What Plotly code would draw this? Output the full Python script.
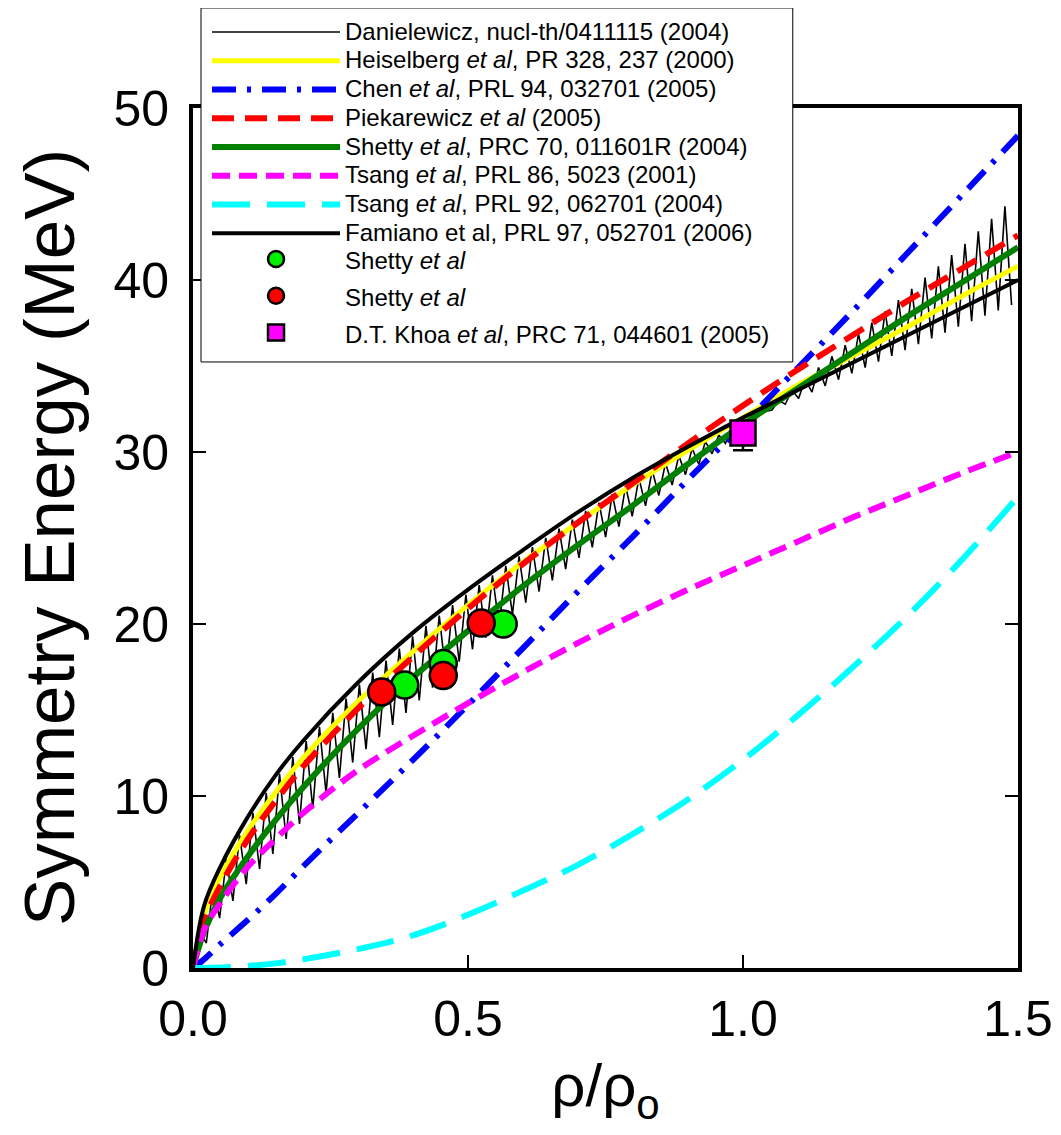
import numpy as np
import plotly.graph_objects as go

# density grid (rho/rho0) used for the model curves
rho = [0.0, 0.02, 0.05, 0.1, 0.15, 0.2, 0.3, 0.4, 0.5, 0.6, 0.7, 0.8, 0.9,
       1.0, 1.1, 1.2, 1.3, 1.4, 1.5]

heiselberg = [0.0, 3.1, 5.3, 8.0, 10.2, 12.2, 15.5, 18.4, 21.1, 23.6, 25.9, 28.1,
              30.1, 32.0, 33.9, 35.6, 37.3, 39.1, 40.8]
chen = [0.0, 0.5, 1.4, 2.8, 4.3, 5.9, 9.0, 12.1, 15.3, 18.6, 21.9, 25.1,
        28.4, 31.6, 34.9, 38.2, 41.6, 45.0, 48.4]
piekarewicz = [0.0, 2.7, 4.8, 7.5, 9.7, 11.7, 15.1, 18.1, 20.9, 23.5, 25.9, 28.2,
               30.5, 32.7, 34.8, 36.8, 38.8, 40.7, 42.6]
shetty_curve = [0.0, 2.1, 4.1, 6.5, 8.6, 10.5, 13.9, 16.9, 19.6, 22.2, 24.6, 26.9,
                29.3, 31.6, 33.7, 35.8, 37.9, 39.9, 41.9]
tsang_2001 = [0.0, 2.2, 3.8, 5.9, 7.5, 9.0, 11.5, 13.5, 15.4, 17.2, 18.9, 20.5,
              22.0, 23.4, 24.8, 26.2, 27.5, 28.8, 30.0]
tsang_2004 = [0.0, 0.0, 0.03, 0.12, 0.27, 0.5, 1.1, 1.9, 3.1, 4.5, 6.0, 7.8,
              9.8, 12.1, 14.7, 17.5, 20.5, 23.8, 27.4]
famiano = [0.0, 3.6, 5.9, 8.8, 11.2, 13.2, 16.6, 19.5, 22.0, 24.3, 26.5, 28.5,
           30.3, 32.0, 33.6, 35.2, 36.8, 38.4, 40.0]

# Danielewicz band edges (the band is drawn as a zigzag hatch between them)
dan_soft = [0.0, 3.5, 5.7, 8.6, 11.0, 13.0, 16.4, 19.3, 21.8, 24.1, 26.3, 28.3,
            30.1, 31.7, 33.1, 34.6, 36.0, 37.4, 38.7]
dan_stiff = [0.0, 1.2, 3.0, 5.0, 6.8, 8.6, 12.3, 15.2, 18.3, 21.1, 23.8, 26.3,
             28.8, 31.3, 33.9, 36.6, 39.3, 42.0, 45.0]

# data points
shetty_green_x = [0.385, 0.455, 0.564]
shetty_green_y = [16.45, 17.7, 20.0]
shetty_red_x = [0.343, 0.455, 0.524]
shetty_red_y = [16.05, 17.0, 20.06]
khoa_x = [1.0]
khoa_y = [31.1]
khoa_err_minus = [1.0]

# build the hatch: alternate between the two band edges
step = 0.0121
hx = np.arange(0, 1.5 + 1e-9, step)
hy = np.where(np.arange(len(hx)) % 2 == 0,
              np.interp(hx, rho, dan_stiff), np.interp(hx, rho, dan_soft))


def lbl(s):
    return '<span style="font-size:24px">' + s + '</span>'


fig = go.Figure()

fig.add_trace(go.Scatter(x=hx, y=hy, mode="lines",
                         line=dict(color="black", width=1.6),
                         name=lbl("Danielewicz, nucl-th/0411115 (2004)")))
fig.add_trace(go.Scatter(x=rho, y=heiselberg, mode="lines", line_shape="spline",
                         line=dict(color="#ffff00", width=5),
                         name=lbl("Heiselberg <i>et al</i>, PR 328, 237 (2000)")))
fig.add_trace(go.Scatter(x=rho, y=chen, mode="lines", line_shape="spline",
                         line=dict(color="#0000ff", width=6, dash="24px,11px,4px,11px"),
                         name=lbl("Chen <i>et al</i>, PRL 94, 032701 (2005)")))
fig.add_trace(go.Scatter(x=rho, y=piekarewicz, mode="lines", line_shape="spline",
                         line=dict(color="#ff0000", width=6, dash="22px,11px"),
                         name=lbl("Piekarewicz <i>et al</i> (2005)")))
fig.add_trace(go.Scatter(x=rho, y=shetty_curve, mode="lines", line_shape="spline",
                         line=dict(color="#008000", width=6),
                         name=lbl("Shetty <i>et al</i>, PRC 70, 011601R (2004)")))
fig.add_trace(go.Scatter(x=rho, y=tsang_2001, mode="lines", line_shape="spline",
                         line=dict(color="#ff00ff", width=6, dash="18px,9px"),
                         name=lbl("Tsang <i>et al</i>, PRL 86, 5023 (2001)")))
fig.add_trace(go.Scatter(x=rho, y=tsang_2004, mode="lines", line_shape="spline",
                         line=dict(color="#00ffff", width=6, dash="38px,17px"),
                         name=lbl("Tsang <i>et al</i>, PRL 92, 062701 (2004)")))
fig.add_trace(go.Scatter(x=rho, y=famiano, mode="lines", line_shape="spline",
                         line=dict(color="black", width=4),
                         name=lbl("Famiano et al, PRL 97, 052701 (2006)")))
fig.add_trace(go.Scatter(x=shetty_green_x, y=shetty_green_y, mode="markers", legend="legend2",
                         marker=dict(color="#00ee00", size=27, line=dict(color="black", width=2.5)),
                         name=lbl("Shetty <i>et al</i>")))
fig.add_trace(go.Scatter(x=shetty_red_x, y=shetty_red_y, mode="markers", legend="legend2",
                         marker=dict(color="#ff0000", size=27, line=dict(color="black", width=2.5)),
                         name=lbl("Shetty <i>et al</i>")))
fig.add_trace(go.Scatter(x=khoa_x, y=khoa_y, mode="markers", legend="legend2",
                         marker=dict(color="#ff00ff", size=25, symbol="square",
                                     line=dict(color="black", width=2.5)),
                         error_y=dict(type="data", symmetric=False, array=[0],
                                      arrayminus=khoa_err_minus, color="black",
                                      thickness=2.5, width=10),
                         name=lbl("D.T. Khoa <i>et al</i>, PRC 71, 044601 (2005)")))

axis_common = dict(showline=True, linecolor="black", linewidth=4, mirror="ticks",
                   ticks="inside", ticklen=13, tickwidth=2, tickcolor="black",
                   showgrid=False, zeroline=False,
                   tickfont=dict(size=50, color="black"))

fig.update_xaxes(range=[0, 1.5], dtick=0.5, tickformat=".1f", ticklabelstandoff=4,
                 title=dict(text="ρ/ρ<sub>o</sub>", font=dict(size=60, color="black"), standoff=22),
                 **axis_common)
fig.update_yaxes(range=[0, 50], dtick=10, ticklabelstandoff=10, **axis_common)

# y title as a rotated annotation so it can sit closer to the page edge
fig.add_annotation(text="Symmetry Energy (MeV)", xref="paper", yref="paper",
                   x=-0.1745, y=0.5, xanchor="center", yanchor="middle",
                   textangle=-90, showarrow=False, borderpad=0,
                   font=dict(size=71, color="black"))

leg_common = dict(xanchor="left", yanchor="top", bgcolor="rgba(0,0,0,0)",
                  borderwidth=0, itemwidth=128, traceorder="normal")

fig.update_layout(
    width=1050, height=1120,
    margin=dict(l=185, r=40, t=100, b=160, autoexpand=False),
    font=dict(family="Liberation Sans, Arial, sans-serif", color="black"),
    plot_bgcolor="white", paper_bgcolor="white",
    legend=dict(x=0.0170, y=1.1109, font=dict(size=19.8, color="black"), **leg_common),
    legend2=dict(x=0.0170, y=0.8516, font=dict(size=26, color="black"), **leg_common),
    shapes=[dict(type="rect", xref="paper", yref="paper", x0=0.0097, x1=0.727,
                 y0=0.7047, y1=1.1163, line=dict(color="black", width=1),
                 fillcolor="white", layer="above")],
)

fig.write_html("out.html")
